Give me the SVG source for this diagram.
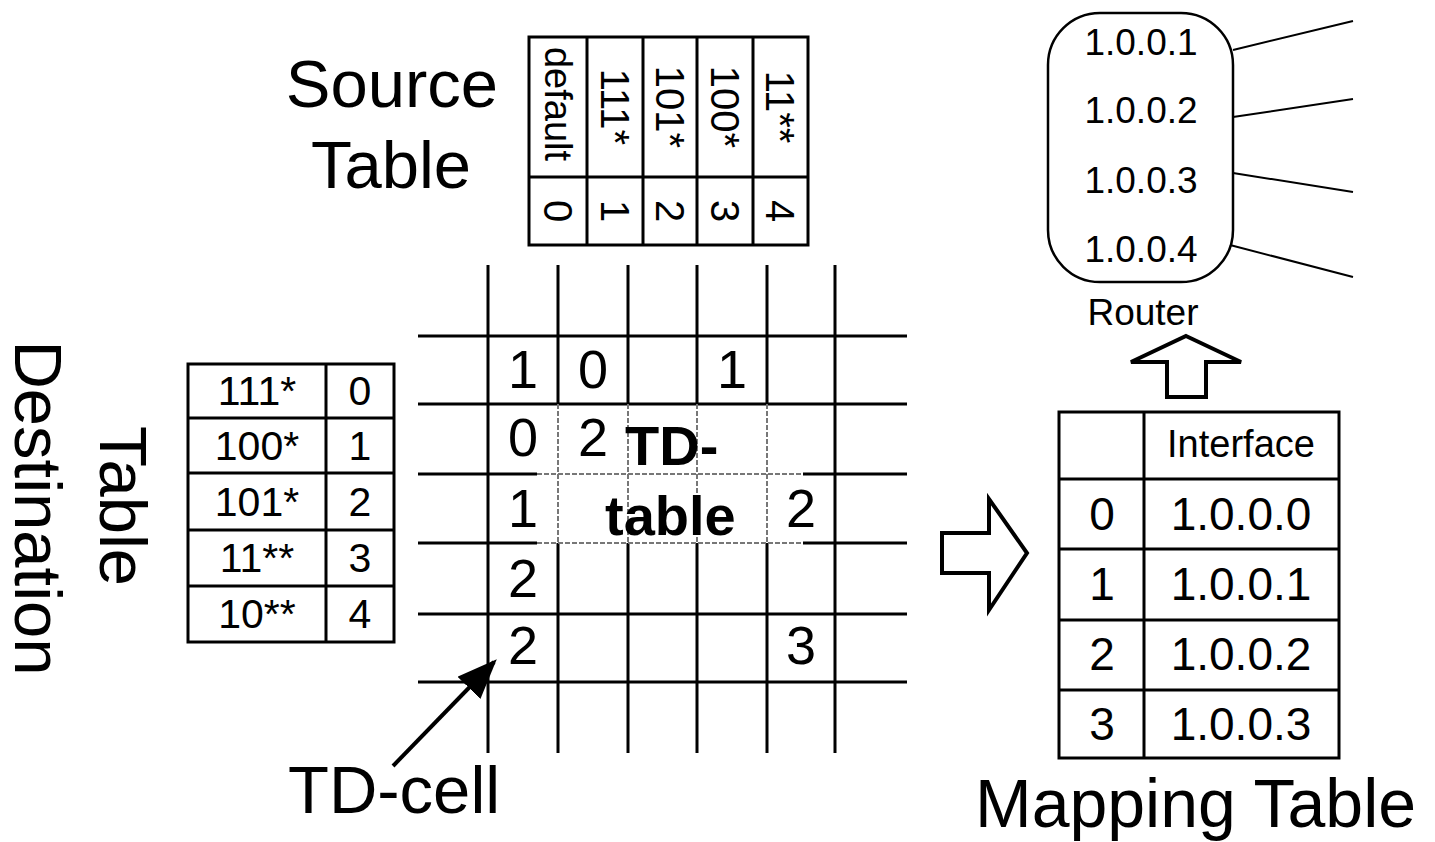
<svg xmlns="http://www.w3.org/2000/svg" width="1435" height="842" viewBox="0 0 1435 842">
<style>
text{font-family:"Liberation Sans",Arial,sans-serif;fill:#000}
.big{font-size:67px}
.tb{fill:none;stroke:#000;stroke-width:3}
.ln{stroke:#000;stroke-width:3;fill:none}
.dash{stroke:#777;stroke-width:2;stroke-dasharray:5 2;fill:none}
.st{font-size:40px;text-anchor:middle}
.dt{font-size:41px;text-anchor:middle}
.gd{font-size:54px;text-anchor:middle}
.mt{font-size:46px;text-anchor:middle}
.rt{font-size:37px;text-anchor:middle}
.hollow{fill:#fff;stroke:#000;stroke-width:4;stroke-linejoin:miter}
</style>
<defs>
<marker id="ah" markerWidth="10" markerHeight="8" refX="9" refY="4" orient="auto" markerUnits="strokeWidth">
<path d="M0,0 L10,4 L0,8 Z" fill="#000"/>
</marker>
</defs>
<rect width="1435" height="842" fill="#fff"/>

<g id="source-table">
<text class="big" x="392" y="107" text-anchor="middle">Source</text>
<text class="big" x="391" y="188" text-anchor="middle">Table</text>
<rect class="tb" x="529" y="37" width="279" height="208"/>
<path class="ln" d="M587,37V245M643,37V245M697,37V245M753,37V245M529,177H808"/>
<text class="st" style="font-size:38px" transform="translate(558,104) rotate(90)" y="13">default</text>
<text class="st" transform="translate(615,107) rotate(90)" y="14">111*</text>
<text class="st" transform="translate(670,107) rotate(90)" y="14">101*</text>
<text class="st" transform="translate(725,107) rotate(90)" y="14">100*</text>
<text class="st" transform="translate(780,107) rotate(90)" y="14">11**</text>
<text class="st" transform="translate(558,211) rotate(90)" y="14">0</text>
<text class="st" transform="translate(615,211) rotate(90)" y="14">1</text>
<text class="st" transform="translate(670,211) rotate(90)" y="14">2</text>
<text class="st" transform="translate(725,211) rotate(90)" y="14">3</text>
<text class="st" transform="translate(780,211) rotate(90)" y="14">4</text>
</g>

<g id="destination-table">
<text class="big" transform="translate(100,506) rotate(90)" text-anchor="middle">Table</text>
<text class="big" transform="translate(15,508) rotate(90)" text-anchor="middle">Destination</text>
<rect class="tb" x="188" y="364" width="206" height="278"/>
<path class="ln" d="M326,364V642M188,418H394M188,473H394M188,530H394M188,586H394"/>
<text class="dt" x="257" y="405">111*</text><text class="dt" x="360" y="405">0</text>
<text class="dt" x="257" y="460">100*</text><text class="dt" x="360" y="460">1</text>
<text class="dt" x="257" y="516">101*</text><text class="dt" x="360" y="516">2</text>
<text class="dt" x="257" y="572">11**</text><text class="dt" x="360" y="572">3</text>
<text class="dt" x="257" y="628">10**</text><text class="dt" x="360" y="628">4</text>
</g>

<g id="td-grid">
<path class="ln" d="M488,265V753M835,265V753
M558,265V404M558,543V753M628,265V404M628,543V753M697,265V404M697,543V753M767,265V404M767,543V753
M418,336H907M418,404H907M418,614H907M418,682H907
M418,474H537M803,474H907M418,543H537M803,543H907"/>
<path class="dash" d="M558,404V543M628,404V543M697,404V543M767,404V543M537,474H803M537,543H803"/>
<text class="gd" x="523" y="388">1</text><text class="gd" x="593" y="388">0</text><text class="gd" x="732" y="388">1</text>
<text class="gd" x="523" y="456">0</text><text class="gd" x="593" y="456">2</text>
<text class="gd" x="523" y="527">1</text><text class="gd" x="801" y="527">2</text>
<text class="gd" x="523" y="597">2</text>
<text class="gd" x="523" y="664">2</text><text class="gd" x="801" y="664">3</text>
</g>

<g id="td-table-label">
<text x="625" y="465" style="font-size:56px;font-weight:bold">TD-</text>
<text x="605" y="535" style="font-size:56px;font-weight:bold">table</text>
</g>

<g id="td-cell-label">
<text class="big" x="288" y="813">TD-cell</text>
</g>

<g id="router">
<rect x="1048" y="13" width="185" height="269" rx="52" ry="52" fill="none" stroke="#000" stroke-width="2.5"/>
<text class="rt" x="1141" y="55">1.0.0.1</text>
<text class="rt" x="1141" y="123">1.0.0.2</text>
<text class="rt" x="1141" y="193">1.0.0.3</text>
<text class="rt" x="1141" y="262">1.0.0.4</text>
<text class="rt" x="1143" y="325">Router</text>
</g>

<g id="mapping-table">
<rect class="tb" x="1059" y="412" width="280" height="346"/>
<path class="ln" d="M1144,412V758M1059,479H1339M1059,549H1339M1059,620H1339M1059,690H1339"/>
<text x="1241" y="457" style="font-size:38px;text-anchor:middle">Interface</text>
<text class="mt" x="1102" y="530">0</text><text class="mt" x="1241" y="530">1.0.0.0</text>
<text class="mt" x="1102" y="600">1</text><text class="mt" x="1241" y="600">1.0.0.1</text>
<text class="mt" x="1102" y="670">2</text><text class="mt" x="1241" y="670">1.0.0.2</text>
<text class="mt" x="1102" y="740">3</text><text class="mt" x="1241" y="740">1.0.0.3</text>
<text x="975" y="827" style="font-size:68px">Mapping Table</text>
</g>

<g id="connectors">
<line x1="393" y1="766" x2="494" y2="662" stroke="#000" stroke-width="4" marker-end="url(#ah)"/>
<path d="M1233,50L1353,21M1233,117L1353,99M1233,173L1353,192M1230,245L1353,277" stroke="#000" stroke-width="2" fill="none"/>
<polygon class="hollow" points="942,533 989,533 989,499 1027,553 989,610 989,573 942,573"/>
<polygon class="hollow" points="1186,336 1241,362 1206,362 1206,397 1167,397 1167,362 1131,362"/>
</g>
</svg>
